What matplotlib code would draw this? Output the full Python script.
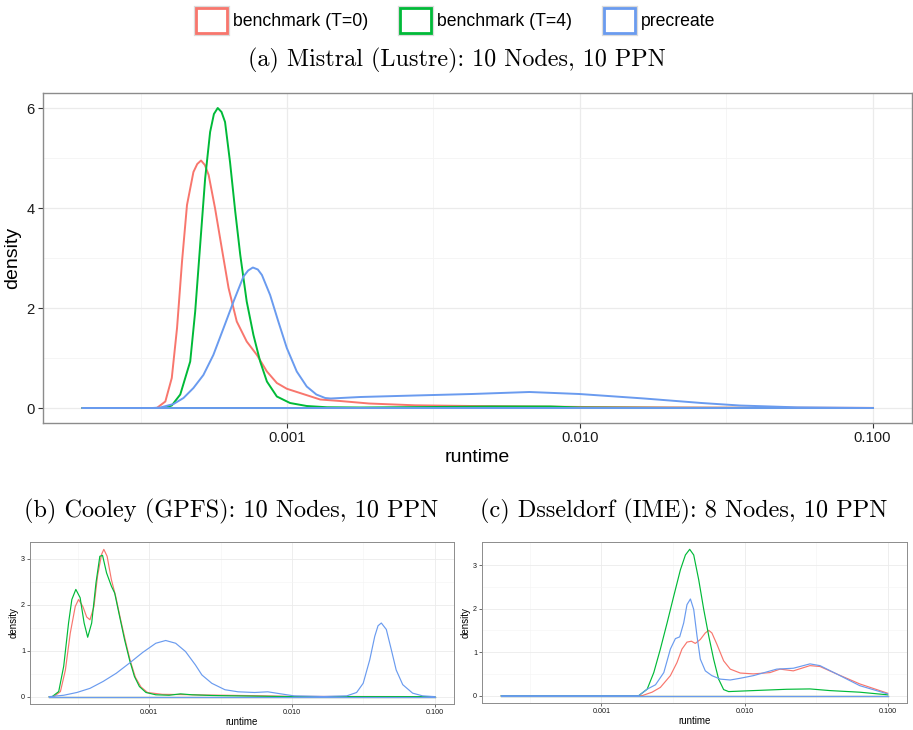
import matplotlib
matplotlib.use("Agg")
import matplotlib.pyplot as plt
import matplotlib.patheffects as pe
import numpy as np
from matplotlib.patches import Patch
from matplotlib.ticker import FixedLocator, NullFormatter

plt.rcParams["font.family"] = ["Liberation Sans", "DejaVu Sans"]

series_labels = ["benchmark (T=0)", "benchmark (T=4)", "precreate"]
series_colors = ["#F8766D", "#00BA38", "#6A9BEF"]

x_ticks = [0.001, 0.01, 0.1]
x_tick_labels = ["0.001", "0.010", "0.100"]

# (a) Mistral (Lustre) -- log10(runtime) and density
mistral_t0_logx = [-3.699, -3.445, -3.416, -3.394, -3.376, -3.359, -3.342, -3.32, -3.307,
                   -3.294, -3.281, -3.268, -3.246, -3.223, -3.2, -3.172, -3.138, -3.103,
                   -3.069, -3.035, -3.001, -2.956, -2.887, -2.819, -2.72, -2.563, -2.369,
                   -2.172, -1.976, -1.7, -1.4, -1.0]
mistral_t0_density = [0, 0, 0.13, 0.6, 1.6, 2.93, 4.06, 4.72, 4.88,
                      4.95, 4.86, 4.66, 3.99, 3.19, 2.4, 1.73, 1.33, 1.06,
                      0.73, 0.5, 0.385, 0.3, 0.17, 0.14, 0.09, 0.054, 0.04,
                      0.03, 0.02, 0.012, 0.006, 0.002]

mistral_t4_logx = [-3.699, -3.42, -3.394, -3.365, -3.331, -3.314, -3.297, -3.28, -3.263,
                   -3.25, -3.237, -3.224, -3.212, -3.195, -3.177, -3.16, -3.138, -3.115,
                   -3.092, -3.069, -3.035, -2.99, -2.933, -2.864, -2.75, -2.5, -2.3,
                   -2.1, -2.0, -1.7, -1.0]
mistral_t4_density = [0, 0, 0.05, 0.27, 0.93, 1.93, 3.26, 4.59, 5.52,
                      5.88, 6.0, 5.92, 5.72, 4.92, 3.92, 3.06, 2.13, 1.46,
                      0.93, 0.53, 0.23, 0.1, 0.04, 0.015, 0.01, 0.02, 0.03,
                      0.03, 0.01, 0.003, 0.0]

mistral_pre_logx = [-3.699, -3.46, -3.433, -3.388, -3.354, -3.32, -3.286, -3.252, -3.217,
                    -3.183, -3.149, -3.133, -3.117, -3.1, -3.086, -3.058, -3.03, -3.001,
                    -2.967, -2.933, -2.9, -2.87, -2.851, -2.75, -2.564, -2.369, -2.172,
                    -2.002, -1.78, -1.584, -1.454, -1.258, -1.0]
mistral_pre_density = [0, 0, 0.01, 0.08, 0.2, 0.4, 0.66, 1.06, 1.6,
                       2.13, 2.63, 2.75, 2.81, 2.77, 2.66, 2.26, 1.73, 1.2,
                       0.73, 0.43, 0.27, 0.2, 0.19, 0.22, 0.25, 0.28, 0.32,
                       0.28, 0.19, 0.1, 0.05, 0.013, 0.0]

# (b) Cooley (GPFS)
cooley_t0_logx = [-3.699, -3.668, -3.621, -3.586, -3.552, -3.517, -3.494, -3.464, -3.437,
                  -3.414, -3.386, -3.361, -3.333, -3.317, -3.294, -3.264, -3.234, -3.202,
                  -3.165, -3.133, -3.096, -3.057, -3.011, -2.907, -2.768, -2.6, -2.469,
                  -2.239, -2.0, -1.0]
cooley_t0_density = [0, 0, 0.11, 0.58, 1.38, 1.96, 2.11, 1.96, 1.73,
                     1.67, 1.96, 2.62, 3.09, 3.2, 3.05, 2.54, 2.18, 1.71,
                     1.2, 0.79, 0.42, 0.21, 0.09, 0.05, 0.045, 0.035, 0.03,
                     0.02, 0.005, 0.0]

cooley_t4_logx = [-3.699, -3.679, -3.633, -3.598, -3.564, -3.541, -3.513, -3.483, -3.455,
                  -3.43, -3.402, -3.372, -3.345, -3.326, -3.298, -3.264, -3.241, -3.207,
                  -3.172, -3.137, -3.103, -3.068, -3.022, -2.953, -2.86, -2.78, -2.699,
                  -2.56, -2.469, -2.239, -2.0, -1.0]
cooley_t4_density = [0, 0, 0.11, 0.66, 1.6, 2.11, 2.33, 2.15, 1.6,
                     1.29, 1.6, 2.47, 3.05, 3.07, 2.69, 2.4, 2.25, 1.75,
                     1.24, 0.8, 0.44, 0.22, 0.09, 0.04, 0.03, 0.06, 0.04,
                     0.025, 0.02, 0.01, 0.0, 0.0]

cooley_pre_logx = [-3.699, -3.598, -3.506, -3.414, -3.322, -3.229, -3.137, -3.045, -2.953,
                   -2.884, -2.814, -2.745, -2.676, -2.63, -2.561, -2.469, -2.377, -2.261,
                   -2.169, -2.077, -1.985, -1.777, -1.616, -1.547, -1.501, -1.455, -1.42,
                   -1.397, -1.374, -1.339, -1.304, -1.27, -1.224, -1.155, -1.085, -1.0]
cooley_pre_density = [0, 0.03, 0.09, 0.18, 0.33, 0.51, 0.73, 0.96, 1.16,
                      1.22, 1.16, 0.98, 0.69, 0.47, 0.29, 0.15, 0.105, 0.09,
                      0.105, 0.06, 0.017, 0.003, 0.017, 0.09, 0.29, 0.8, 1.31,
                      1.54, 1.6, 1.46, 1.02, 0.58, 0.26, 0.076, 0.017, 0.0]

# (c) Dsseldorf (IME)
dus_t0_logx = [-3.699, -2.716, -2.646, -2.588, -2.518, -2.472, -2.437, -2.402, -2.371,
               -2.344, -2.309, -2.274, -2.25, -2.228, -2.193, -2.146, -2.1, -2.03,
               -1.938, -1.822, -1.752, -1.659, -1.543, -1.473, -1.357, -1.195, -1.0]
dus_t0_density = [0, 0, 0.08, 0.19, 0.46, 0.76, 1.07, 1.23, 1.25,
                  1.2, 1.29, 1.44, 1.5, 1.44, 1.18, 0.8, 0.61, 0.52,
                  0.5, 0.53, 0.61, 0.57, 0.69, 0.67, 0.5, 0.27, 0.056]

dus_t4_logx = [-3.699, -2.739, -2.68, -2.634, -2.588, -2.541, -2.495, -2.448, -2.413,
               -2.383, -2.355, -2.32, -2.285, -2.25, -2.216, -2.181, -2.146, -2.111,
               -1.938, -1.706, -1.543, -1.404, -1.195, -1.0]
dus_t4_density = [0, 0, 0.15, 0.53, 1.07, 1.67, 2.28, 2.89, 3.23,
                  3.36, 3.23, 2.66, 1.98, 1.37, 0.84, 0.38, 0.14, 0.094,
                  0.117, 0.147, 0.155, 0.117, 0.08, 0.02]

dus_pre_logx = [-3.699, -2.739, -2.68, -2.622, -2.564, -2.518, -2.483, -2.453, -2.425,
                -2.402, -2.378, -2.355, -2.332, -2.309, -2.274, -2.228, -2.169, -2.1,
                -2.03, -1.938, -1.775, -1.659, -1.543, -1.473, -1.357, -1.195, -1.0]
dus_pre_density = [0, 0, 0.15, 0.25, 0.53, 1.07, 1.31, 1.35, 1.67,
                   2.09, 2.22, 1.98, 1.37, 0.84, 0.57, 0.46, 0.38, 0.36,
                   0.4, 0.46, 0.61, 0.63, 0.73, 0.69, 0.5, 0.23, 0.04]

panels = [
    ("(a) Mistral (Lustre): 10 Nodes, 10 PPN",
     [(mistral_t0_logx, mistral_t0_density), (mistral_t4_logx, mistral_t4_density),
      (mistral_pre_logx, mistral_pre_density)], [0, 2, 4, 6]),
    ("(b) Cooley (GPFS): 10 Nodes, 10 PPN",
     [(cooley_t0_logx, cooley_t0_density), (cooley_t4_logx, cooley_t4_density),
      (cooley_pre_logx, cooley_pre_density)], [0, 1, 2, 3]),
    ("(c) Dsseldorf (IME): 8 Nodes, 10 PPN",
     [(dus_t0_logx, dus_t0_density), (dus_t4_logx, dus_t4_density),
      (dus_pre_logx, dus_pre_density)], [0, 1, 2, 3]),
]


def draw_density(ax, curves, yticks, big):
    lw = 1.4 if big else 0.85
    lo, hi = None, None
    ymax = 0
    for (logx, dens), color in zip(curves, series_colors):
        x = np.power(10.0, np.array(logx))
        ax.plot(x, dens, color=color, lw=lw, solid_joinstyle="round")
        # ggplot closes the density polygon along the baseline
        ax.plot([x[0], x[-1]], [0, 0], color=color, lw=lw)
        lo = logx[0] if lo is None else min(lo, logx[0])
        hi = logx[-1] if hi is None else max(hi, logx[-1])
        ymax = max(ymax, max(dens))
    pad = 0.05 * (hi - lo)
    ax.set_xscale("log")
    ax.set_xlim(10 ** (lo - pad), 10 ** (hi + pad))
    ax.set_ylim(-0.05 * ymax, 1.05 * ymax)

    ax.xaxis.set_major_locator(FixedLocator(x_ticks))
    ax.set_xticklabels(x_tick_labels)
    ax.xaxis.set_minor_locator(FixedLocator([10 ** -3.5, 10 ** -2.5, 10 ** -1.5]))
    ax.xaxis.set_minor_formatter(NullFormatter())
    ax.set_yticks(yticks)
    step = yticks[1] - yticks[0]
    ax.yaxis.set_minor_locator(FixedLocator([t + step / 2 for t in yticks[:-1]]))

    ax.grid(which="major", color="#ebebeb", lw=0.9 if big else 0.6)
    ax.grid(which="minor", color="#f4f4f4", lw=0.6 if big else 0.4)
    ax.set_axisbelow(True)
    for s in ax.spines.values():
        s.set_color("#8c8c8c")
        s.set_linewidth(1.0 if big else 0.7)
    fs = 10.6 if big else 5.2
    ax.tick_params(which="major", length=3.5 if big else 2, width=0.8 if big else 0.5,
                   color="#333333", labelsize=fs, labelcolor="#1a1a1a",
                   pad=2.5 if big else 1.5)
    ax.tick_params(which="minor", length=0)
    lab = 14 if big else 7
    ax.set_xlabel("runtime", fontsize=lab, labelpad=3 if big else 1)
    ax.set_ylabel("density", fontsize=lab, labelpad=4 if big else 2)


W, H = 913, 730
fig = plt.figure(figsize=(W / 100, H / 100), dpi=100)


def box(left, top, right, bottom):
    return [left / W, 1 - bottom / H, (right - left) / W, (bottom - top) / H]


ax_a = fig.add_axes(box(43, 93, 912, 423))
ax_b = fig.add_axes(box(30, 542, 454, 704))
ax_c = fig.add_axes(box(482, 542, 907, 703))

for ax, (title, curves, yticks), big in zip([ax_a, ax_b, ax_c], panels, [True, False, False]):
    draw_density(ax, curves, yticks, big)

fig.text(456.5 / W, 1 - 60 / H, panels[0][0], family="cmr10", fontsize=17.4,
         ha="center", va="center")
fig.text(231 / W, 1 - 511 / H, panels[1][0], family="cmr10", fontsize=17.5,
         ha="center", va="center")
fig.text(684 / W, 1 - 511 / H, panels[2][0], family="cmr10", fontsize=17.5,
         ha="center", va="center")

handles = [Patch(facecolor="white", edgecolor=c, linewidth=2,
                 path_effects=[pe.Stroke(linewidth=3.8, foreground="#dcdcdc"), pe.Normal()])
           for c in series_colors]
fig.legend(handles, series_labels, loc="center", bbox_to_anchor=(456 / W, 1 - 20.5 / H),
           ncol=3, frameon=False, fontsize=12.7, handlelength=1.75, handleheight=1.75,
           handletextpad=0.35, columnspacing=1.8, borderpad=0)

fig.savefig("out.png", dpi=100)
